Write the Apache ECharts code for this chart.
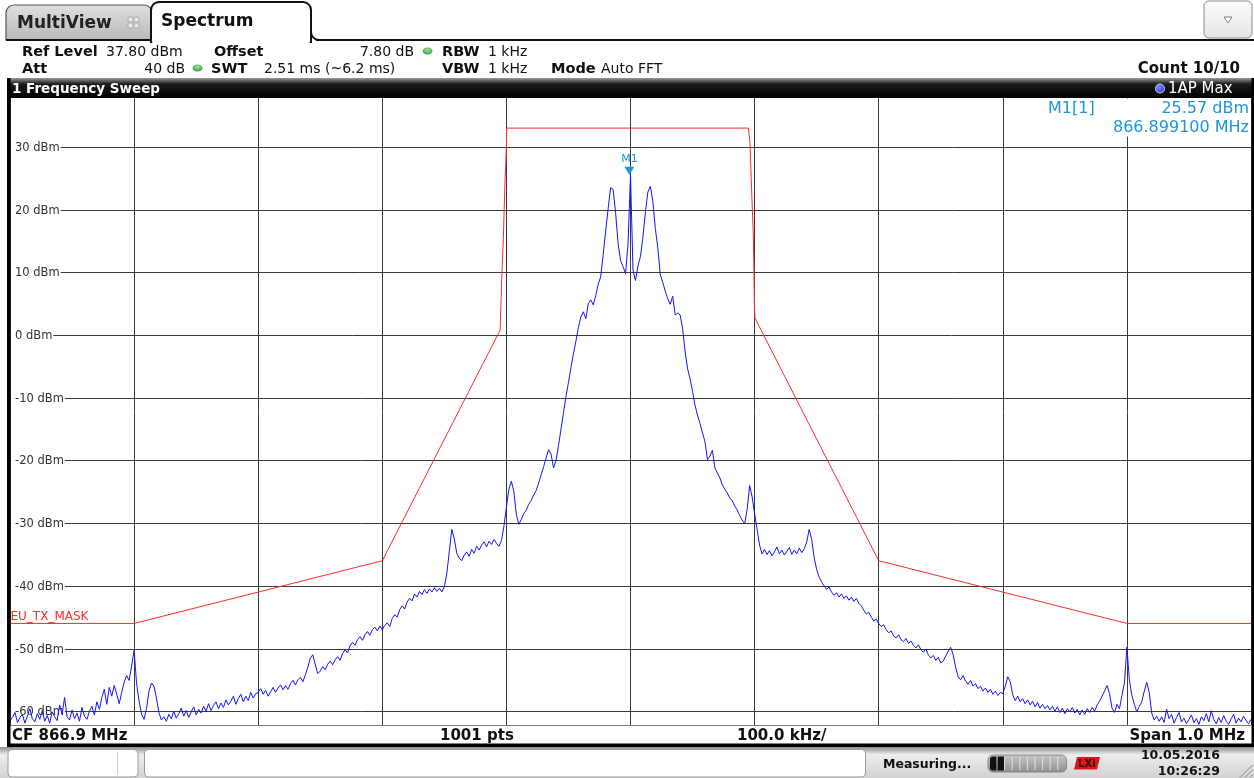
<!DOCTYPE html>
<html>
<head>
<meta charset="utf-8">
<title>Spectrum</title>
<script src="https://cdn.jsdelivr.net/npm/echarts@6/dist/echarts.min.js"></script>
<style>
  html, body { margin: 0; padding: 0; background: #ffffff; }
  #chart { width: 1254px; height: 778px; }
</style>
</head>
<body>
<div id="chart"></div>
<script>
// ---- Sweep settings ----
const centerKHz = 866900;
const spanKHz = 1000;
const stepKHz = 2;
const refLevel = 37.8;
const rangeDb = 100;
const yTicks = [30, 20, 10, 0, -10, -20, -30, -40, -50, -60];

// ---- Limit line EU_TX_MASK (kHz, dBm) ----
const maskFreqKHz = [866400, 866500, 866700, 866795, 866796.2, 866797.5, 866798.9, 866800, 866800.2,
  866995, 866996.3, 866997.7, 866998.9, 866999.5, 866999.8, 867000.3, 867100, 867300, 867400];
const maskLevel = [-46, -46, -36, 0.8, 8.8, 15.2, 24.7, 30, 33,
  33, 30.6, 22.6, 16.3, 9.9, 5.1, 2.7, -36, -46, -46];

// ---- Trace 1 (AP, max hold), dBm, one value every 2 kHz from 866.400 MHz ----
const traceLevel = [
  -61.5,-61.0,-60.2,-61.8,-61.0,-60.5,-61.9,-60.8,-59.6,-61.2,
  -61.7,-60.4,-61.3,-59.9,-61.6,-60.7,-61.9,-60.1,-60.9,-61.5,
  -59.0,-60.5,-57.8,-60.9,-61.4,-59.8,-61.2,-60.3,-61.6,-59.4,
  -60.8,-61.3,-60.0,-59.2,-60.6,-58.5,-59.7,-57.8,-56.5,-58.9,
  -56.2,-57.6,-55.9,-57.3,-58.8,-57.0,-55.4,-54.3,-55.1,-52.8,
  -50.3,-55.6,-58.4,-60.5,-61.3,-59.6,-56.8,-55.5,-56.0,-57.9,
  -60.2,-61.4,-60.9,-61.6,-60.5,-61.2,-60.0,-61.1,-60.4,-59.5,
  -60.8,-59.9,-61.0,-60.1,-59.3,-60.6,-59.7,-60.3,-59.2,-60.0,
  -58.8,-59.9,-59.1,-58.5,-59.6,-58.7,-59.4,-58.2,-59.0,-58.4,
  -57.6,-58.9,-58.0,-57.3,-58.5,-57.6,-58.3,-57.0,-57.9,-57.2,
  -57.0,-56.4,-57.3,-56.7,-57.6,-56.9,-56.2,-57.0,-56.3,-55.8,
  -56.6,-55.9,-56.5,-55.6,-55.1,-55.8,-55.0,-54.6,-55.3,-54.2,
  -53.0,-51.5,-51.0,-52.6,-54.0,-53.6,-52.9,-53.4,-52.5,-52.0,
  -52.6,-51.8,-51.3,-51.9,-50.8,-50.2,-50.7,-49.6,-49.0,-49.5,
  -48.6,-48.1,-48.7,-47.8,-47.3,-47.9,-47.0,-46.6,-47.2,-46.4,
  -47.0,-46.3,-45.9,-46.5,-45.2,-44.6,-45.0,-43.8,-43.2,-43.7,
  -42.6,-42.0,-42.4,-41.3,-41.8,-40.9,-41.4,-40.6,-41.2,-40.5,
  -41.0,-40.3,-40.9,-40.4,-41.0,-40.2,-38.0,-34.5,-31.0,-32.5,
  -34.8,-35.6,-36.0,-35.1,-34.6,-35.3,-34.2,-34.8,-33.7,-34.3,
  -33.5,-33.0,-33.8,-32.9,-33.4,-32.6,-33.2,-33.7,-32.8,-30.5,
  -27.5,-24.6,-23.3,-25.0,-28.6,-30.2,-29.4,-28.5,-27.9,-27.0,
  -26.4,-25.5,-24.8,-23.6,-22.3,-21.0,-19.6,-18.3,-19.0,-21.2,
  -20.0,-17.6,-15.0,-12.4,-9.8,-7.6,-5.2,-3.0,-1.0,1.2,
  2.9,3.7,2.6,5.0,5.6,4.8,6.3,8.1,9.3,12.8,
  16.6,20.2,23.5,23.2,19.5,14.6,11.9,10.9,9.8,14.5,
  25.57,10.4,8.7,11.0,12.5,15.6,19.6,22.8,23.7,21.3,
  17.0,13.9,9.6,8.4,7.0,5.8,4.9,6.2,3.2,3.5,
  3.2,1.0,-2.6,-5.4,-7.0,-9.0,-11.2,-12.8,-14.1,-15.6,
  -17.0,-19.9,-19.3,-18.4,-21.2,-22.0,-22.8,-23.9,-24.6,-25.2,
  -26.0,-26.4,-27.3,-27.9,-28.8,-29.5,-30.1,-27.8,-24.0,-25.8,
  -28.5,-31.0,-33.5,-34.9,-34.2,-35.0,-34.4,-35.2,-34.6,-33.8,
  -34.9,-34.3,-35.1,-34.5,-33.9,-35.0,-34.3,-34.9,-34.0,-34.7,
  -34.1,-33.0,-31.0,-32.6,-35.5,-37.4,-38.6,-39.4,-40.0,-40.6,
  -40.2,-41.0,-41.5,-41.1,-41.8,-41.3,-42.0,-41.6,-42.3,-41.8,
  -42.5,-42.0,-42.8,-43.2,-43.9,-44.5,-44.2,-45.0,-45.6,-45.3,
  -46.0,-46.5,-46.2,-47.0,-47.5,-47.2,-48.0,-48.3,-47.8,-48.6,
  -48.9,-48.4,-49.2,-48.8,-49.5,-49.9,-49.4,-50.2,-50.6,-50.1,
  -51.0,-51.5,-51.1,-51.9,-51.4,-52.3,-52.0,-51.2,-50.4,-49.8,
  -51.0,-53.0,-54.5,-55.0,-54.3,-55.2,-55.7,-55.1,-56.0,-55.6,
  -56.4,-56.0,-56.8,-56.3,-57.0,-56.5,-57.3,-56.8,-57.5,-57.0,
  -57.2,-56.0,-54.5,-55.3,-57.4,-58.3,-57.6,-58.5,-58.0,-58.8,
  -58.2,-59.0,-58.4,-59.3,-58.6,-59.5,-58.9,-59.6,-59.1,-59.8,
  -59.2,-60.0,-59.3,-60.2,-59.5,-60.4,-59.6,-60.1,-59.4,-60.3,
  -59.7,-60.6,-59.8,-60.5,-59.6,-60.2,-59.4,-60.0,-59.0,-58.4,
  -57.6,-56.8,-55.9,-57.2,-59.5,-60.2,-58.9,-59.6,-57.5,-55.5,
  -49.8,-55.0,-57.5,-58.9,-60.1,-59.2,-58.5,-56.8,-55.4,-57.0,
  -60.3,-61.4,-60.8,-61.6,-60.9,-61.8,-59.7,-61.2,-60.5,-61.9,
  -61.0,-60.2,-61.7,-61.1,-62.0,-61.3,-60.6,-61.8,-61.2,-62.1,
  -60.9,-61.5,-60.4,-61.7,-59.9,-61.3,-62.0,-61.0,-61.8,-60.7,
  -61.6,-62.1,-61.2,-60.5,-61.9,-61.1,-61.7,-60.8,-61.5,-62.0,
  -61.3
];

// ---- Marker M1 ----
const markerFreqKHz = 866899.1;
const markerLevel = 25.57;

// ---- Derived ----
const xMin = centerKHz - spanKHz / 2;
const xMax = centerKHz + spanKHz / 2;
const yMin = refLevel - rangeDb;
const traceData = traceLevel.map((v, i) => [xMin + i * stepKHz, v]);
const maskData = maskFreqKHz.map((f, i) => [f, maskLevel[i]]);

const FONT = '"DejaVu Sans", Verdana, sans-serif';
const MARK_BLUE = '#1c96d8';
const TRACE_BLUE = '#1414ff';
const MASK_RED = '#ff2a2a';
const GRID_COLOR = '#3a3a3a';

const chart = echarts.init(document.getElementById('chart'), null, { renderer: 'canvas' });

chart.setOption({
  animation: false,
  backgroundColor: '#ffffff',
  grid: { left: 10, right: 3, top: 98, height: 627 },
  xAxis: {
    type: 'value', min: xMin, max: xMax, interval: spanKHz / 10,
    axisLine: { show: false }, axisTick: { show: false }, axisLabel: { show: false },
    splitLine: { show: true, lineStyle: { color: GRID_COLOR, width: 1 } }
  },
  yAxis: {
    type: 'value', min: yMin, max: refLevel,
    axisLine: { show: false }, axisTick: { show: false }, axisLabel: { show: false },
    splitLine: { show: false }
  },
  series: [
    {
      name: 'EU_TX_MASK', type: 'line', data: maskData, showSymbol: false, z: 2,
      lineStyle: { color: MASK_RED, width: 1 }, itemStyle: { color: MASK_RED }
    },
    {
      name: '1AP Max', type: 'line', data: traceData, showSymbol: false, z: 3,
      lineStyle: { color: TRACE_BLUE, width: 1 }, itemStyle: { color: TRACE_BLUE },
      markPoint: {
        symbol: 'triangle', symbolSize: [10, 8], symbolRotate: 180, symbolOffset: [0, -4],
        itemStyle: { color: MARK_BLUE },
        label: { show: true, position: 'top', distance: 2, formatter: 'M1', color: MARK_BLUE, fontSize: 11, fontFamily: FONT },
        data: [{ coord: [markerFreqKHz, markerLevel] }]
      }
    }
  ]
});

// ---- helpers for graphic elements ----
function txt(text, x, y, opt) {
  opt = opt || {};
  const align = opt.align || 'left';
  const font = (opt.bold ? 'bold ' : '') + (opt.size || 14) + 'px ' + FONT;
  return {
    type: 'text', z: opt.z || 20, silent: true,
    style: {
      text: text, x: x, y: y + 1, font: font, fill: opt.color || '#111',
      align: align, textAlign: align, verticalAlign: 'middle', textVerticalAlign: 'middle'
    }
  };
}
function rect(x, y, w, h, style, r, z) {
  return { type: 'rect', z: z || 15, silent: true, shape: { x: x, y: y, width: w, height: h, r: r || 0 }, style: style };
}
function line(x1, y1, x2, y2, color, width, z) {
  return { type: 'line', z: z || 15, silent: true, shape: { x1: x1, y1: y1, x2: x2, y2: y2 }, style: { stroke: color, lineWidth: width || 1 } };
}
const vGrad = (stops) => new echarts.graphic.LinearGradient(0, 0, 0, 1, stops.map(s => ({ offset: s[0], color: s[1] })));

const els = [];

// Tabs
els.push(rect(6, 5, 146, 35, { fill: vGrad([[0, '#e0e0e0'], [1, '#b8b8b8']]), stroke: '#555', lineWidth: 1.2 }, [8, 8, 0, 0], 14));
els.push(txt('MultiView', 17, 23, { bold: true, size: 17, color: '#222' }));
[[128, 17], [134, 17], [128, 23], [134, 23]].forEach(p => {
  els.push(rect(p[0], p[1], 5, 5, { fill: '#e8e8e8', stroke: '#a8a8a8', lineWidth: 1 }, 1, 16));
});
els.push(rect(151, 2, 160, 40, { fill: '#ffffff', stroke: '#111', lineWidth: 2 }, [8, 8, 0, 0], 15));
els.push(rect(152.2, 39, 157.6, 4, { fill: '#ffffff' }, 0, 16));
els.push(line(6, 40, 151, 40, '#111', 2, 14));
els.push(line(316, 40, 1254, 40, '#111', 2, 15));
els.push({
  type: 'arc', z: 15, silent: true,
  shape: { cx: 319, cy: 32, r: 8, startAngle: Math.PI / 2, endAngle: Math.PI, clockwise: true },
  style: { stroke: '#111', lineWidth: 2, fill: 'none' }
});
els.push(txt('Spectrum', 161, 21, { bold: true, size: 17, color: '#111' }));

// Drop-down button
els.push(rect(1204, 1, 48, 37, { fill: vGrad([[0, '#fdfdfd'], [1, '#e4e4e4']]), stroke: '#8a8a8a', lineWidth: 1 }, 5));
els.push({ type: 'polygon', z: 16, silent: true, shape: { points: [[1224, 17], [1232, 17], [1228, 23]] }, style: { fill: '#ffffff', stroke: '#7a7a9a', lineWidth: 1 } });

// Setting rows
const greenDot = (cx, cy) => ({
  type: 'circle', z: 16, silent: true, x: cx, y: cy, scaleY: 0.7, shape: { cx: 0, cy: 0, r: 5 },
  style: { fill: new echarts.graphic.RadialGradient(0.5, 0.35, 0.7, [{ offset: 0, color: '#9be39b' }, { offset: 1, color: '#2e9a3a' }]) }
});
const HB = { bold: true, size: 14.5 };
els.push(txt('Ref Level', 22, 51.5, HB));
els.push(txt(refLevel.toFixed(2) + ' dBm', 106, 51.5));
els.push(txt('Offset', 214, 51.5, HB));
els.push(txt('7.80 dB', 414, 51.5, { align: 'right' }));
els.push(greenDot(427.5, 51));
els.push(txt('RBW', 442, 51.5, HB));
els.push(txt('1 kHz', 488, 51.5));
els.push(txt('Att', 22, 68, HB));
els.push(txt('40 dB', 185, 68, { align: 'right' }));
els.push(greenDot(197.5, 68));
els.push(txt('SWT', 211, 68, HB));
els.push(txt('2.51 ms (~6.2 ms)', 264, 68));
els.push(txt('VBW', 442, 68, HB));
els.push(txt('1 kHz', 488, 68));
els.push(txt('Mode', 551, 68, HB));
els.push(txt('Auto FFT', 601, 68));
els.push(txt('Count 10/10', 1240, 68, { bold: true, size: 15, align: 'right' }));

// Window title bar
els.push(rect(7, 78, 1247, 20, { fill: vGrad([[0, '#9a9a9a'], [0.3, '#1c1c1c'], [1, '#000000']]) }, [3, 3, 0, 0]));
els.push(txt('1 Frequency Sweep', 12, 88, { bold: true, size: 13.5, color: '#ffffff' }));
els.push({
  type: 'circle', z: 16, silent: true, shape: { cx: 1160, cy: 88.5, r: 4.5 },
  style: { fill: new echarts.graphic.RadialGradient(0.4, 0.35, 0.8, [{ offset: 0, color: '#7a8cff' }, { offset: 1, color: '#1428e0' }]), stroke: '#c8d0e8', lineWidth: 1 }
});
els.push(txt('1AP Max', 1168, 88, { size: 15, color: '#ffffff' }));

// Plot frame
els.push(rect(7, 78, 3.5, 669, { fill: '#000' }, 0, 16));
els.push(rect(1251.5, 78, 2.5, 669, { fill: '#000' }, 0, 16));

// Bottom information bar
const BB = { bold: true, size: 15 };
els.push(rect(10, 725.5, 1241.5, 18.5, { fill: '#ffffff' }, 0, 14));
els.push(line(10, 725.5, 1251.5, 725.5, '#7a7a7a', 1, 15));
els.push(rect(7, 743.5, 1247, 3.5, { fill: '#000' }, 0, 16));
els.push(txt('CF ' + (centerKHz / 1000).toFixed(1) + ' MHz', 12, 735, BB));
els.push(txt((spanKHz + 1) + ' pts', 440, 735, BB));
els.push(txt((spanKHz / 10).toFixed(1) + ' kHz/', 737, 735, BB));
els.push(txt('Span ' + (spanKHz / 1000).toFixed(1) + ' MHz', 1245, 735, { bold: true, size: 15, align: 'right' }));

// Status bar
els.push(rect(0, 747, 1254, 31, { fill: vGrad([[0, '#8c8c8c'], [0.25, '#ededed'], [1, '#d2d2d2']]) }, 0, 12));
els.push(rect(8, 749.5, 130, 27.5, { fill: '#ffffff', stroke: '#9a9a9a', lineWidth: 1 }, 4, 13));
els.push(line(117.5, 752, 117.5, 775, '#d0d0d0', 1, 14));
els.push(rect(144.5, 749.5, 721, 27.5, { fill: '#ffffff', stroke: '#9a9a9a', lineWidth: 1 }, 4, 13));
els.push(txt('Measuring...', 883, 763.5, { bold: true, size: 12.5 }));
els.push(rect(988, 755, 78.5, 17, { fill: vGrad([[0, '#c8c8c8'], [1, '#8e8e8e']]), stroke: '#777', lineWidth: 0.8 }, 5, 13));
for (let k = 0; k < 2; k++) {
  els.push(rect(990 + k * 7.6, 756.5, 6.4, 14, { fill: '#111' }, k === 0 ? [3, 0, 0, 3] : 0, 14));
}
for (let k = 2; k < 10; k++) {
  els.push(line(990 + k * 7.6 - 0.6, 757, 990 + k * 7.6 - 0.6, 770, '#e0e0e0', 1, 14));
}
els.push({ type: 'polygon', z: 14, silent: true, shape: { points: [[1077, 757], [1100, 757], [1097, 769.5], [1074, 769.5]] }, style: { fill: '#e0141e' } });
els.push(txt('LXI', 1087, 763, { bold: true, size: 10, color: '#3a0000', align: 'center' }));
els.push(txt('10.05.2016', 1220, 755, { bold: true, size: 12.5, align: 'right' }));
els.push(txt('10:26:29', 1220, 771, { bold: true, size: 12.5, align: 'right' }));
[[1240, 1253], [1245, 1253], [1250, 1253]].forEach(p => {
  els.push(line(p[0], 777.5, p[1], 777.5 - (p[1] - p[0]), '#8a8a8a', 1, 14));
});

// Marker readout (white box hides the grid behind it)
els.push(rect(1042, 98.5, 209, 38, { fill: '#ffffff' }, 0, 5));
els.push(txt('M1[1]', 1048, 108, { size: 16, color: MARK_BLUE, z: 6 }));
els.push(txt(markerLevel.toFixed(2) + ' dBm', 1249, 108, { size: 16, color: MARK_BLUE, align: 'right', z: 6 }));
els.push(txt((markerFreqKHz / 1000).toFixed(6) + ' MHz', 1249, 126.5, { size: 16, color: MARK_BLUE, align: 'right', z: 6 }));

// Level grid lines with their labels, placed through the chart's own scale
const TICK_SIZE = 11.5;
const measure = document.createElement('canvas').getContext('2d');
measure.font = TICK_SIZE + 'px ' + FONT;
const plotRight = chart.convertToPixel({ gridIndex: 0 }, [xMax, 0])[0];
const plotLeft = chart.convertToPixel({ gridIndex: 0 }, [xMin, 0])[0];
yTicks.forEach(v => {
  const py = Math.round(chart.convertToPixel({ gridIndex: 0 }, [xMin, v])[1]) + 0.5;
  const label = v + ' dBm';
  const w = measure.measureText(label).width;
  els.push(txt(label, plotLeft + 5, py, { size: TICK_SIZE, color: '#333', z: 1 }));
  els.push(line(plotLeft + 5 + w + 1, py, plotRight, py, GRID_COLOR, 1, 1));
});

// Limit line name
const maskY = chart.convertToPixel({ gridIndex: 0 }, [xMin, maskLevel[0]])[1];
els.push(txt('EU_TX_MASK', plotLeft + 0.5, maskY - 7.5, { size: 12, color: MASK_RED, z: 4 }));

chart.setOption({ graphic: { elements: els } });
</script>
</body>
</html>
